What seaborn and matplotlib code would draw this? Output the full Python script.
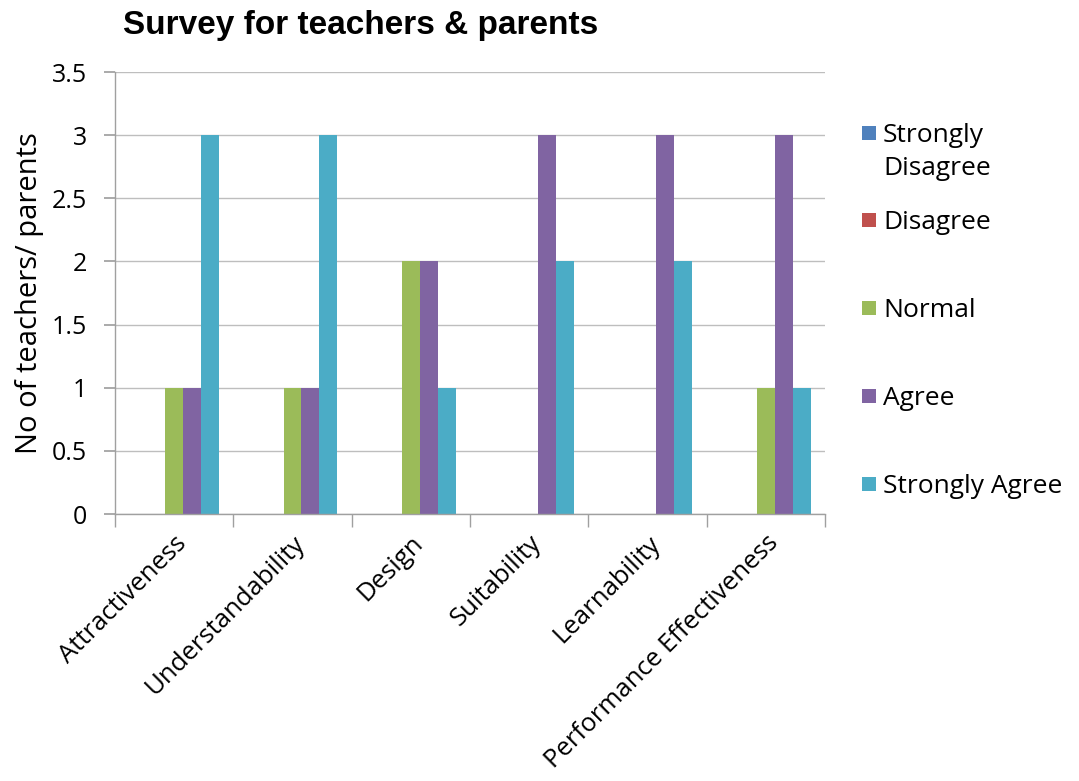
import matplotlib
matplotlib.use("Agg")
import matplotlib.pyplot as plt
import seaborn as sns
import pandas as pd
from matplotlib.patches import Rectangle

categories = ["Attractiveness", "Understandability", "Design", "Suitability",
              "Learnability", "Performance Effectiveness"]
responses = ["Strongly Disagree", "Disagree", "Normal", "Agree", "Strongly Agree"]
strongly_disagree = [0, 0, 0, 0, 0, 0]
disagree = [0, 0, 0, 0, 0, 0]
normal = [1, 1, 2, 0, 0, 1]
agree = [1, 1, 2, 3, 3, 3]
strongly_agree = [3, 3, 1, 2, 2, 1]
colors = ["#4F81BD", "#C0504D", "#9BBB59", "#8064A2", "#4BACC6"]

series = [strongly_disagree, disagree, normal, agree, strongly_agree]
rows = []
for resp, vals in zip(responses, series):
    for cat, v in zip(categories, vals):
        rows.append({"Aspect": cat, "Response": resp, "Count": v})
df = pd.DataFrame(rows)

sns.set_theme(style="white")
plt.rcParams['font.family'] = ['Open Sans', 'DejaVu Sans']
plt.rcParams['text.color'] = 'black'
plt.rcParams['axes.labelcolor'] = 'black'

W, H = 1079, 781
fig = plt.figure(figsize=(W / 100, H / 100), dpi=100)
ax = fig.add_axes([115 / W, 1 - 514 / H, 710 / W, 442 / H])

sns.barplot(data=df, x="Aspect", y="Count", hue="Response", order=categories,
            hue_order=responses, palette=colors, width=0.76, gap=0,
            saturation=1, errorbar=None, ax=ax, legend=False, linewidth=0)

ax.set_ylim(0, 3.5)
ax.set_xlim(-0.5, len(categories) - 0.5)
ax.set_yticks([0, 0.5, 1, 1.5, 2, 2.5, 3, 3.5])
ax.set_yticklabels(["0", "0.5", "1", "1.5", "2", "2.5", "3", "3.5"], fontsize=18)
ax.yaxis.grid(True, color="#BEBEBE", linewidth=1)
ax.set_axisbelow(True)

for s in ["top", "right"]:
    ax.spines[s].set_visible(False)
for s in ["left", "bottom"]:
    ax.spines[s].set_color("#A0A0A0")
    ax.spines[s].set_linewidth(1)

ax.tick_params(axis="y", which="major", left=True, length=8, color="#A0A0A0",
               pad=12, labelcolor="black")
ax.set_xticks(range(len(categories)))
ax.set_xticks([i - 0.5 for i in range(len(categories) + 1)], minor=True)
ax.tick_params(axis="x", which="major", length=0, pad=12, labelcolor="black")
ax.tick_params(axis="x", which="minor", bottom=True, length=9, color="#A0A0A0")
ax.set_xticklabels(categories, rotation=45, ha="right", rotation_mode="anchor",
                   fontsize=18.5)

ax.set_xlabel("")
ax.set_ylabel("No of teachers/ parents", fontsize=21, labelpad=6)

fig.text(123 / W, 1 - 10 / H, "Survey for teachers & parents", fontsize=24,
         fontweight="bold", family="Liberation Sans", va="top", ha="left")

# legend drawn by hand so the two-line entry lines up like the original
legend_labels = ["Strongly\nDisagree", "Disagree", "Normal", "Agree", "Strongly Agree"]
legend_y = [133, 220, 308, 396, 484]
for lab, c, y in zip(legend_labels, colors, legend_y):
    fig.patches.append(Rectangle((862 / W, 1 - (y + 7) / H), 14 / W, 14 / H,
                                 transform=fig.transFigure, facecolor=c,
                                 edgecolor="none"))
    fig.text(883 / W, 1 - (y - 10) / H, lab, fontsize=19, va="top", ha="left",
             linespacing=1.4)

fig.savefig("out.png", dpi=100)
